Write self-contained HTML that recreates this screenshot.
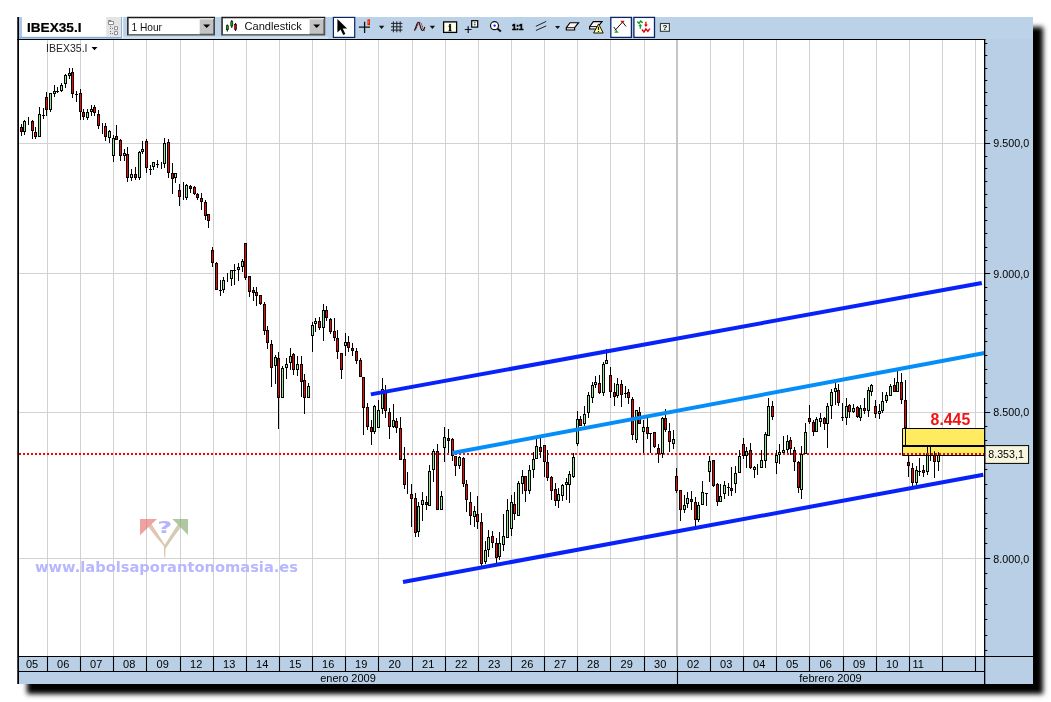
<!DOCTYPE html>
<html><head><meta charset="utf-8"><title>IBEX35.I</title>
<style>
html,body{margin:0;padding:0;background:#fff;}
body{width:1051px;height:702px;position:relative;overflow:hidden;font-family:"Liberation Sans",sans-serif;}
#panel{position:absolute;left:17px;top:17px;width:1016px;height:667px;background:#b8cfe5;box-shadow:10px 10px 5px #000;}
#c{position:absolute;left:0;top:0;}
</style></head><body>
<div id="panel"></div>
<svg id="c" width="1051" height="702" viewBox="0 0 1051 702">
<rect x="19" y="17" width="1014" height="22" fill="#bbd2e8"/>
<rect x="19" y="40" width="966" height="616" fill="#fff"/>
<path d="M47.5 40V656 M80.5 40V656 M113.5 40V656 M146.5 40V656 M180.5 40V656 M213.5 40V656 M246.5 40V656 M279.5 40V656 M312.5 40V656 M345.5 40V656 M378.5 40V656 M412.5 40V656 M445.5 40V656 M478.5 40V656 M511.5 40V656 M544.5 40V656 M577.5 40V656 M610.5 40V656 M644.5 40V656 M677.5 40V656 M710.5 40V656 M743.5 40V656 M776.5 40V656 M809.5 40V656 M843.5 40V656 M876.5 40V656 M909.5 40V656 M942.5 40V656 M975.5 40V656 M19 143.5H984 M19 273.5H984 M19 412.5H984 M19 558.5H984" stroke="#d2d2d2" stroke-width="1" fill="none"/>
<rect x="676" y="40" width="2" height="616" fill="#c6c6c6"/>
<g opacity="0.62"><path d="M146.5 524.5L150.5 522.5Q158 534 165.6 546L165.2 557.5L164.2 557.5L163.8 546Q155 536 146.5 524.5Z" fill="#cfa286"/><path d="M183 524.5L179 522.5Q171.5 534 164 546L164.6 550Q174 536 183 524.5Z" fill="#b9ad84"/><path d="M140 519H157L140 535.2Z" fill="#e46a6a"/><path d="M172.3 519H188V535Z" fill="#7fa86a"/></g>
<text x="157.3" y="533.4" font-family="DejaVu Sans, Liberation Sans, sans-serif" font-weight="bold" font-size="15.5" fill="#b4b4ff" textLength="15" lengthAdjust="spacingAndGlyphs">?</text>
<text x="35" y="572.4" font-family="DejaVu Sans, Liberation Sans, sans-serif" font-weight="bold" font-size="13.2" fill="#b7b7ff" textLength="263" lengthAdjust="spacingAndGlyphs">www.labolsaporantonomasia.es</text>
<path d="M19 454H984" stroke="#ff0000" stroke-width="2" stroke-dasharray="2 2" fill="none"/>
<path d="M21.50 124.0V136.0 M24.50 120.0V135.0 M28.50 117.0V125.0 M32.50 120.0V139.0 M35.50 127.0V139.0 M39.50 107.0V137.0 M43.50 108.0V119.0 M46.50 92.0V116.0 M50.50 93.0V112.0 M54.50 85.0V97.0 M57.50 87.0V93.0 M61.50 83.0V92.0 M65.50 74.0V88.0 M69.50 68.0V79.0 M72.50 68.0V98.0 M76.50 91.0V102.0 M80.50 89.0V120.0 M83.50 109.0V120.0 M87.50 109.0V120.0 M91.50 105.0V116.0 M94.50 105.0V116.0 M98.50 110.0V129.0 M102.50 123.0V134.0 M105.50 123.0V141.0 M109.50 130.0V143.0 M113.50 135.0V162.0 M116.50 125.0V140.0 M120.50 139.0V161.0 M124.50 149.0V161.0 M127.50 147.0V182.0 M131.50 169.0V181.0 M135.50 167.0V180.0 M139.50 151.0V180.0 M142.50 141.0V154.0 M146.50 139.0V173.0 M150.50 165.0V175.0 M153.50 162.0V170.0 M157.50 160.0V168.0 M161.50 162.0V169.0 M164.50 138.0V168.0 M168.50 139.0V178.0 M172.50 163.0V194.0 M175.50 173.0V183.0 M179.50 184.0V206.0 M183.50 182.0V200.0 M186.50 184.0V200.0 M190.50 185.0V193.0 M194.50 186.0V195.0 M197.50 193.0V200.0 M201.50 193.0V210.0 M205.50 200.0V220.0 M208.50 214.0V228.0 M212.50 247.0V267.0 M216.50 262.0V290.0 M220.50 280.0V296.0 M223.50 277.0V293.0 M227.50 273.0V282.0 M231.50 270.0V286.0 M234.50 264.0V285.0 M238.50 263.0V281.0 M242.50 259.0V272.0 M245.50 243.0V280.0 M249.50 276.0V297.0 M253.50 287.0V301.0 M256.50 287.0V306.0 M260.50 295.0V305.0 M264.50 302.0V335.0 M267.50 326.0V349.0 M271.50 340.0V387.0 M275.50 355.0V384.0 M278.50 352.0V429.0 M282.50 366.0V398.0 M286.50 358.0V379.0 M290.50 348.0V370.0 M293.50 353.0V375.0 M297.50 356.0V376.0 M301.50 356.0V397.0 M304.50 374.0V414.0 M308.50 383.0V398.0 M312.50 322.0V352.0 M315.50 318.0V332.0 M319.50 317.0V330.0 M323.50 304.0V341.0 M326.50 306.0V321.0 M330.50 318.0V334.0 M334.50 318.0V341.0 M337.50 330.0V359.0 M341.50 353.0V379.0 M345.50 333.0V356.0 M348.50 336.0V352.0 M352.50 343.0V356.0 M356.50 348.0V364.0 M360.50 358.0V377.0 M363.50 377.0V435.0 M367.50 403.0V430.0 M371.50 420.0V445.0 M374.50 405.0V434.0 M378.50 400.0V428.0 M382.50 378.0V414.0 M385.50 385.0V418.0 M389.50 408.0V439.0 M393.50 404.0V428.0 M396.50 418.0V433.0 M400.50 417.0V460.0 M404.50 447.0V489.0 M407.50 472.0V494.0 M411.50 484.0V527.0 M415.50 493.0V537.0 M418.50 502.0V537.0 M422.50 492.0V521.0 M426.50 496.0V510.0 M429.50 465.0V506.0 M433.50 449.0V482.0 M437.50 444.0V510.0 M441.50 491.0V510.0 M444.50 427.0V462.0 M448.50 429.0V453.0 M452.50 438.0V461.0 M455.50 456.0V476.0 M459.50 456.0V469.0 M463.50 457.0V487.0 M466.50 480.0V512.0 M470.50 492.0V525.0 M474.50 506.0V527.0 M477.50 496.0V529.0 M481.50 513.0V566.0 M485.50 541.0V564.0 M488.50 530.0V557.0 M492.50 531.0V548.0 M496.50 538.0V563.0 M499.50 532.0V560.0 M503.50 514.0V551.0 M507.50 499.0V538.0 M511.50 495.0V536.0 M514.50 492.0V520.0 M518.50 481.0V516.0 M522.50 470.0V494.0 M525.50 476.0V502.0 M529.50 465.0V494.0 M533.50 452.0V478.0 M536.50 439.0V459.0 M540.50 438.0V458.0 M544.50 445.0V477.0 M547.50 450.0V481.0 M551.50 476.0V500.0 M555.50 483.0V506.0 M558.50 488.0V508.0 M562.50 484.0V501.0 M566.50 478.0V500.0 M569.50 471.0V503.0 M573.50 453.0V478.0 M577.50 411.0V446.0 M580.50 416.0V426.0 M584.50 406.0V426.0 M588.50 392.0V418.0 M592.50 382.0V403.0 M595.50 376.0V388.0 M599.50 375.0V394.0 M603.50 362.0V396.0 M606.50 349.0V364.0 M610.50 367.0V398.0 M614.50 383.0V406.0 M617.50 378.0V398.0 M621.50 380.0V407.0 M625.50 386.0V398.0 M628.50 389.0V404.0 M632.50 397.0V440.0 M636.50 410.0V443.0 M639.50 407.0V424.0 M643.50 420.0V453.0 M647.50 418.0V439.0 M650.50 433.0V453.0 M654.50 432.0V448.0 M658.50 444.0V463.0 M662.50 417.0V458.0 M665.50 409.0V432.0 M669.50 423.0V452.0 M673.50 430.0V449.0 M676.50 468.0V493.0 M680.50 490.0V521.0 M684.50 495.0V513.0 M687.50 492.0V508.0 M691.50 491.0V510.0 M695.50 497.0V526.0 M698.50 502.0V522.0 M702.50 481.0V505.0 M706.50 493.0V506.0 M709.50 456.0V482.0 M713.50 460.0V487.0 M717.50 483.0V506.0 M720.50 484.0V502.0 M724.50 481.0V499.0 M728.50 483.0V496.0 M731.50 467.0V496.0 M735.50 466.0V493.0 M739.50 450.0V473.0 M743.50 438.0V459.0 M746.50 447.0V468.0 M750.50 443.0V469.0 M754.50 466.0V478.0 M757.50 464.0V475.0 M761.50 450.0V468.0 M765.50 432.0V468.0 M768.50 398.0V436.0 M772.50 401.0V420.0 M776.50 450.0V474.0 M779.50 444.0V464.0 M783.50 436.0V453.0 M787.50 435.0V453.0 M790.50 437.0V455.0 M794.50 447.0V471.0 M798.50 461.0V493.0 M801.50 446.0V499.0 M805.50 423.0V454.0 M809.50 405.0V424.0 M813.50 420.0V436.0 M816.50 417.0V432.0 M820.50 413.0V427.0 M824.50 417.0V430.0 M827.50 403.0V448.0 M831.50 389.0V419.0 M835.50 383.0V405.0 M838.50 384.0V406.0 M842.50 403.0V421.0 M846.50 398.0V425.0 M849.50 404.0V418.0 M853.50 404.0V413.0 M857.50 406.0V418.0 M860.50 405.0V421.0 M864.50 398.0V414.0 M868.50 387.0V417.0 M871.50 384.0V396.0 M875.50 400.0V418.0 M879.50 404.0V419.0 M882.50 392.0V413.0 M886.50 392.0V403.0 M890.50 384.0V396.0 M894.50 378.0V392.0 M897.50 371.0V392.0 M901.50 373.0V404.0 M905.50 380.0V428.0 M908.50 456.0V477.0 M912.50 463.0V486.0 M916.50 466.0V485.0 M919.50 458.0V476.0 M923.50 465.0V477.0 M927.50 447.0V475.0 M930.50 447.0V461.0 M934.50 451.0V478.0 M938.50 452.0V471.0" stroke="#000" stroke-width="1" fill="none"/>
<path d="M20.00 127.0h3V132.0h-3Z M23.00 121.0h3V132.0h-3Z M31.00 121.0h3V131.0h-3Z M34.00 132.0h3V137.0h-3Z M38.00 114.0h3V137.0h-3Z M42.00 115.0h3v1h-3Z M45.00 97.0h3V110.0h-3Z M49.00 93.0h3V110.0h-3Z M53.00 91.0h3V94.0h-3Z M56.00 91.0h3v1h-3Z M60.00 85.0h3V91.0h-3Z M64.00 75.0h3V84.0h-3Z M68.00 73.0h3V76.0h-3Z M71.00 72.0h3V94.0h-3Z M75.00 94.0h3v1h-3Z M79.00 93.0h3V112.0h-3Z M82.00 112.0h3V117.0h-3Z M86.00 112.0h3V118.0h-3Z M90.00 109.0h3V112.0h-3Z M93.00 107.0h3V113.0h-3Z M97.00 114.0h3V126.0h-3Z M104.00 126.0h3V137.0h-3Z M108.00 131.0h3V138.0h-3Z M112.00 138.0h3V156.0h-3Z M115.00 136.0h3V140.0h-3Z M119.00 140.0h3V156.0h-3Z M123.00 153.0h3V156.0h-3Z M126.00 154.0h3V178.0h-3Z M130.00 174.0h3V178.0h-3Z M134.00 174.0h3V178.0h-3Z M138.00 152.0h3V178.0h-3Z M141.00 149.0h3V152.0h-3Z M145.00 141.0h3V168.0h-3Z M149.00 169.0h3v1h-3Z M152.00 162.0h3V167.0h-3Z M156.00 164.0h3v1h-3Z M163.00 143.0h3V164.0h-3Z M167.00 142.0h3V173.0h-3Z M171.00 173.0h3V179.0h-3Z M174.00 173.0h3V178.0h-3Z M178.00 190.0h3V197.0h-3Z M185.00 185.0h3V198.0h-3Z M189.00 186.0h3V189.0h-3Z M193.00 187.0h3V194.0h-3Z M196.00 194.0h3V198.0h-3Z M200.00 198.0h3V202.0h-3Z M204.00 202.0h3V216.0h-3Z M207.00 214.0h3V221.0h-3Z M211.00 250.0h3V263.0h-3Z M215.00 263.0h3V290.0h-3Z M219.00 290.0h3v1h-3Z M222.00 280.0h3V290.0h-3Z M230.00 270.0h3V279.0h-3Z M233.00 270.0h3v1h-3Z M237.00 267.0h3V270.0h-3Z M241.00 261.0h3V267.0h-3Z M244.00 243.0h3V278.0h-3Z M248.00 276.0h3V292.0h-3Z M252.00 290.0h3V293.0h-3Z M255.00 292.0h3V296.0h-3Z M259.00 295.0h3V304.0h-3Z M263.00 304.0h3V331.0h-3Z M266.00 330.0h3V343.0h-3Z M270.00 344.0h3V368.0h-3Z M274.00 357.0h3V366.0h-3Z M277.00 358.0h3V398.0h-3Z M281.00 368.0h3V398.0h-3Z M285.00 364.0h3V368.0h-3Z M289.00 356.0h3V363.0h-3Z M292.00 354.0h3V370.0h-3Z M296.00 364.0h3V370.0h-3Z M300.00 364.0h3V382.0h-3Z M303.00 380.0h3V398.0h-3Z M307.00 386.0h3V398.0h-3Z M311.00 325.0h3V336.0h-3Z M314.00 321.0h3V324.0h-3Z M318.00 321.0h3V328.0h-3Z M322.00 310.0h3V328.0h-3Z M325.00 310.0h3V318.0h-3Z M329.00 319.0h3V332.0h-3Z M333.00 331.0h3V338.0h-3Z M336.00 338.0h3V352.0h-3Z M340.00 353.0h3V370.0h-3Z M344.00 342.0h3V346.0h-3Z M347.00 342.0h3V348.0h-3Z M351.00 348.0h3V351.0h-3Z M355.00 351.0h3V361.0h-3Z M359.00 360.0h3V377.0h-3Z M362.00 377.0h3V408.0h-3Z M366.00 407.0h3V427.0h-3Z M370.00 427.0h3V432.0h-3Z M373.00 406.0h3V432.0h-3Z M377.00 410.0h3V428.0h-3Z M381.00 389.0h3V409.0h-3Z M384.00 390.0h3V411.0h-3Z M388.00 412.0h3V427.0h-3Z M392.00 420.0h3V427.0h-3Z M395.00 421.0h3V428.0h-3Z M399.00 428.0h3V460.0h-3Z M403.00 459.0h3V485.0h-3Z M410.00 494.0h3V499.0h-3Z M414.00 498.0h3V533.0h-3Z M417.00 506.0h3V532.0h-3Z M421.00 500.0h3V505.0h-3Z M425.00 502.0h3V505.0h-3Z M428.00 471.0h3V506.0h-3Z M432.00 451.0h3V470.0h-3Z M436.00 451.0h3V510.0h-3Z M440.00 496.0h3V510.0h-3Z M443.00 437.0h3V448.0h-3Z M447.00 438.0h3V441.0h-3Z M451.00 439.0h3V456.0h-3Z M454.00 456.0h3V466.0h-3Z M458.00 457.0h3V466.0h-3Z M462.00 458.0h3V484.0h-3Z M465.00 484.0h3V500.0h-3Z M469.00 502.0h3V516.0h-3Z M473.00 511.0h3V517.0h-3Z M476.00 514.0h3V522.0h-3Z M480.00 522.0h3V564.0h-3Z M484.00 550.0h3V562.0h-3Z M487.00 537.0h3V550.0h-3Z M491.00 536.0h3V543.0h-3Z M495.00 543.0h3V558.0h-3Z M498.00 543.0h3V557.0h-3Z M502.00 536.0h3V545.0h-3Z M506.00 510.0h3V538.0h-3Z M510.00 502.0h3V529.0h-3Z M513.00 504.0h3V514.0h-3Z M517.00 483.0h3V516.0h-3Z M521.00 476.0h3V484.0h-3Z M524.00 476.0h3V491.0h-3Z M528.00 470.0h3V491.0h-3Z M532.00 459.0h3V470.0h-3Z M535.00 446.0h3V459.0h-3Z M539.00 447.0h3V452.0h-3Z M543.00 445.0h3V462.0h-3Z M546.00 462.0h3V478.0h-3Z M550.00 477.0h3V491.0h-3Z M554.00 489.0h3V501.0h-3Z M557.00 494.0h3V501.0h-3Z M561.00 485.0h3V496.0h-3Z M565.00 482.0h3V485.0h-3Z M568.00 474.0h3V485.0h-3Z M572.00 457.0h3V477.0h-3Z M576.00 419.0h3V444.0h-3Z M579.00 419.0h3V426.0h-3Z M583.00 414.0h3V424.0h-3Z M587.00 395.0h3V413.0h-3Z M591.00 385.0h3V398.0h-3Z M594.00 382.0h3V385.0h-3Z M598.00 383.0h3V393.0h-3Z M602.00 364.0h3V393.0h-3Z M605.00 360.0h3V364.0h-3Z M609.00 375.0h3V392.0h-3Z M613.00 392.0h3V397.0h-3Z M616.00 384.0h3V396.0h-3Z M620.00 384.0h3V395.0h-3Z M624.00 393.0h3v1h-3Z M627.00 392.0h3V398.0h-3Z M631.00 399.0h3V435.0h-3Z M635.00 410.0h3V440.0h-3Z M638.00 412.0h3V424.0h-3Z M642.00 427.0h3V432.0h-3Z M646.00 427.0h3V434.0h-3Z M649.00 433.0h3v1h-3Z M653.00 432.0h3V447.0h-3Z M657.00 448.0h3V454.0h-3Z M661.00 418.0h3V454.0h-3Z M664.00 418.0h3V430.0h-3Z M668.00 431.0h3V442.0h-3Z M672.00 439.0h3V444.0h-3Z M675.00 476.0h3V491.0h-3Z M679.00 490.0h3V510.0h-3Z M683.00 505.0h3V510.0h-3Z M686.00 498.0h3V504.0h-3Z M690.00 499.0h3V502.0h-3Z M694.00 502.0h3V520.0h-3Z M697.00 505.0h3V520.0h-3Z M701.00 492.0h3V505.0h-3Z M705.00 493.0h3v1h-3Z M708.00 461.0h3V472.0h-3Z M712.00 460.0h3V486.0h-3Z M716.00 484.0h3V502.0h-3Z M719.00 496.0h3V502.0h-3Z M723.00 485.0h3V494.0h-3Z M727.00 487.0h3v1h-3Z M730.00 488.0h3V491.0h-3Z M734.00 473.0h3V484.0h-3Z M738.00 456.0h3V473.0h-3Z M742.00 444.0h3V456.0h-3Z M745.00 451.0h3V456.0h-3Z M749.00 450.0h3V468.0h-3Z M753.00 467.0h3V470.0h-3Z M760.00 460.0h3V468.0h-3Z M764.00 434.0h3V461.0h-3Z M767.00 406.0h3V436.0h-3Z M771.00 406.0h3V417.0h-3Z M775.00 455.0h3V463.0h-3Z M778.00 452.0h3V455.0h-3Z M782.00 450.0h3V453.0h-3Z M786.00 441.0h3V450.0h-3Z M789.00 440.0h3V449.0h-3Z M793.00 450.0h3V462.0h-3Z M797.00 462.0h3V488.0h-3Z M800.00 454.0h3V490.0h-3Z M804.00 432.0h3V454.0h-3Z M808.00 418.0h3V422.0h-3Z M812.00 422.0h3V432.0h-3Z M815.00 419.0h3V432.0h-3Z M819.00 418.0h3V422.0h-3Z M823.00 418.0h3V424.0h-3Z M826.00 406.0h3V424.0h-3Z M830.00 392.0h3V406.0h-3Z M834.00 388.0h3V392.0h-3Z M837.00 390.0h3V403.0h-3Z M841.00 417.0h3v1h-3Z M845.00 406.0h3V418.0h-3Z M848.00 405.0h3V412.0h-3Z M852.00 408.0h3V412.0h-3Z M856.00 407.0h3V417.0h-3Z M859.00 408.0h3V418.0h-3Z M863.00 408.0h3V411.0h-3Z M867.00 390.0h3V411.0h-3Z M870.00 385.0h3V392.0h-3Z M874.00 406.0h3V414.0h-3Z M878.00 411.0h3V414.0h-3Z M881.00 401.0h3V411.0h-3Z M885.00 395.0h3V401.0h-3Z M889.00 386.0h3V396.0h-3Z M893.00 385.0h3V392.0h-3Z M896.00 382.0h3V392.0h-3Z M900.00 382.0h3V400.0h-3Z M904.00 400.0h3V428.0h-3Z M907.00 462.0h3V466.0h-3Z M911.00 468.0h3V483.0h-3Z M915.00 470.0h3V483.0h-3Z M918.00 471.0h3v1h-3Z M922.00 470.0h3V473.0h-3Z M926.00 453.0h3V472.0h-3Z M933.00 455.0h3V462.0h-3Z M937.00 455.0h3V462.0h-3Z" fill="#000"/>
<path d="M21.00 128.0h1V131.0h-1Z M32.00 122.0h1V130.0h-1Z M35.00 133.0h1V136.0h-1Z M46.00 98.0h1V109.0h-1Z M72.00 73.0h1V93.0h-1Z M80.00 94.0h1V111.0h-1Z M83.00 113.0h1V116.0h-1Z M94.00 108.0h1V112.0h-1Z M98.00 115.0h1V125.0h-1Z M105.00 127.0h1V136.0h-1Z M116.00 137.0h1V139.0h-1Z M120.00 141.0h1V155.0h-1Z M127.00 155.0h1V177.0h-1Z M135.00 175.0h1V177.0h-1Z M146.00 142.0h1V167.0h-1Z M168.00 143.0h1V172.0h-1Z M172.00 174.0h1V178.0h-1Z M179.00 191.0h1V196.0h-1Z M190.00 187.0h1V188.0h-1Z M194.00 188.0h1V193.0h-1Z M197.00 195.0h1V197.0h-1Z M201.00 199.0h1V201.0h-1Z M205.00 203.0h1V215.0h-1Z M208.00 215.0h1V220.0h-1Z M212.00 251.0h1V262.0h-1Z M216.00 264.0h1V289.0h-1Z M245.00 244.0h1V277.0h-1Z M249.00 277.0h1V291.0h-1Z M253.00 291.0h1V292.0h-1Z M256.00 293.0h1V295.0h-1Z M260.00 296.0h1V303.0h-1Z M264.00 305.0h1V330.0h-1Z M267.00 331.0h1V342.0h-1Z M271.00 345.0h1V367.0h-1Z M278.00 359.0h1V397.0h-1Z M293.00 355.0h1V369.0h-1Z M301.00 365.0h1V381.0h-1Z M304.00 381.0h1V397.0h-1Z M319.00 322.0h1V327.0h-1Z M326.00 311.0h1V317.0h-1Z M330.00 320.0h1V331.0h-1Z M334.00 332.0h1V337.0h-1Z M337.00 339.0h1V351.0h-1Z M341.00 354.0h1V369.0h-1Z M348.00 343.0h1V347.0h-1Z M352.00 349.0h1V350.0h-1Z M356.00 352.0h1V360.0h-1Z M360.00 361.0h1V376.0h-1Z M363.00 378.0h1V407.0h-1Z M367.00 408.0h1V426.0h-1Z M371.00 428.0h1V431.0h-1Z M385.00 391.0h1V410.0h-1Z M389.00 413.0h1V426.0h-1Z M396.00 422.0h1V427.0h-1Z M400.00 429.0h1V459.0h-1Z M404.00 460.0h1V484.0h-1Z M411.00 495.0h1V498.0h-1Z M415.00 499.0h1V532.0h-1Z M426.00 503.0h1V504.0h-1Z M437.00 452.0h1V509.0h-1Z M448.00 439.0h1V440.0h-1Z M452.00 440.0h1V455.0h-1Z M455.00 457.0h1V465.0h-1Z M463.00 459.0h1V483.0h-1Z M466.00 485.0h1V499.0h-1Z M470.00 503.0h1V515.0h-1Z M477.00 515.0h1V521.0h-1Z M481.00 523.0h1V563.0h-1Z M492.00 537.0h1V542.0h-1Z M496.00 544.0h1V557.0h-1Z M514.00 505.0h1V513.0h-1Z M525.00 477.0h1V490.0h-1Z M540.00 448.0h1V451.0h-1Z M544.00 446.0h1V461.0h-1Z M547.00 463.0h1V477.0h-1Z M551.00 478.0h1V490.0h-1Z M555.00 490.0h1V500.0h-1Z M580.00 420.0h1V425.0h-1Z M599.00 384.0h1V392.0h-1Z M610.00 376.0h1V391.0h-1Z M614.00 393.0h1V396.0h-1Z M621.00 385.0h1V394.0h-1Z M628.00 393.0h1V397.0h-1Z M632.00 400.0h1V434.0h-1Z M639.00 413.0h1V423.0h-1Z M647.00 428.0h1V433.0h-1Z M654.00 433.0h1V446.0h-1Z M658.00 449.0h1V453.0h-1Z M665.00 419.0h1V429.0h-1Z M669.00 432.0h1V441.0h-1Z M676.00 477.0h1V490.0h-1Z M680.00 491.0h1V509.0h-1Z M691.00 500.0h1V501.0h-1Z M695.00 503.0h1V519.0h-1Z M713.00 461.0h1V485.0h-1Z M717.00 485.0h1V501.0h-1Z M731.00 489.0h1V490.0h-1Z M743.00 445.0h1V455.0h-1Z M750.00 451.0h1V467.0h-1Z M772.00 407.0h1V416.0h-1Z M790.00 441.0h1V448.0h-1Z M794.00 451.0h1V461.0h-1Z M798.00 463.0h1V487.0h-1Z M809.00 419.0h1V421.0h-1Z M813.00 423.0h1V431.0h-1Z M824.00 419.0h1V423.0h-1Z M838.00 391.0h1V402.0h-1Z M849.00 406.0h1V411.0h-1Z M857.00 408.0h1V416.0h-1Z M864.00 409.0h1V410.0h-1Z M875.00 407.0h1V413.0h-1Z M894.00 386.0h1V391.0h-1Z M901.00 383.0h1V399.0h-1Z M905.00 401.0h1V427.0h-1Z M908.00 463.0h1V465.0h-1Z M912.00 469.0h1V482.0h-1Z M923.00 471.0h1V472.0h-1Z M934.00 456.0h1V461.0h-1Z" fill="#ff0000"/>
<path d="M24.00 122.0h1V131.0h-1Z M39.00 115.0h1V136.0h-1Z M50.00 94.0h1V109.0h-1Z M54.00 92.0h1V93.0h-1Z M61.00 86.0h1V90.0h-1Z M65.00 76.0h1V83.0h-1Z M69.00 74.0h1V75.0h-1Z M87.00 113.0h1V117.0h-1Z M91.00 110.0h1V111.0h-1Z M109.00 132.0h1V137.0h-1Z M113.00 139.0h1V155.0h-1Z M124.00 154.0h1V155.0h-1Z M131.00 175.0h1V177.0h-1Z M139.00 153.0h1V177.0h-1Z M142.00 150.0h1V151.0h-1Z M153.00 163.0h1V166.0h-1Z M164.00 144.0h1V163.0h-1Z M175.00 174.0h1V177.0h-1Z M186.00 186.0h1V197.0h-1Z M223.00 281.0h1V289.0h-1Z M231.00 271.0h1V278.0h-1Z M238.00 268.0h1V269.0h-1Z M242.00 262.0h1V266.0h-1Z M275.00 358.0h1V365.0h-1Z M282.00 369.0h1V397.0h-1Z M286.00 365.0h1V367.0h-1Z M290.00 357.0h1V362.0h-1Z M297.00 365.0h1V369.0h-1Z M308.00 387.0h1V397.0h-1Z M312.00 326.0h1V335.0h-1Z M315.00 322.0h1V323.0h-1Z M323.00 311.0h1V327.0h-1Z M345.00 343.0h1V345.0h-1Z M374.00 407.0h1V431.0h-1Z M378.00 411.0h1V427.0h-1Z M382.00 390.0h1V408.0h-1Z M393.00 421.0h1V426.0h-1Z M418.00 507.0h1V531.0h-1Z M422.00 501.0h1V504.0h-1Z M429.00 472.0h1V505.0h-1Z M433.00 452.0h1V469.0h-1Z M441.00 497.0h1V509.0h-1Z M444.00 438.0h1V447.0h-1Z M459.00 458.0h1V465.0h-1Z M474.00 512.0h1V516.0h-1Z M485.00 551.0h1V561.0h-1Z M488.00 538.0h1V549.0h-1Z M499.00 544.0h1V556.0h-1Z M503.00 537.0h1V544.0h-1Z M507.00 511.0h1V537.0h-1Z M511.00 503.0h1V528.0h-1Z M518.00 484.0h1V515.0h-1Z M522.00 477.0h1V483.0h-1Z M529.00 471.0h1V490.0h-1Z M533.00 460.0h1V469.0h-1Z M536.00 447.0h1V458.0h-1Z M558.00 495.0h1V500.0h-1Z M562.00 486.0h1V495.0h-1Z M566.00 483.0h1V484.0h-1Z M569.00 475.0h1V484.0h-1Z M573.00 458.0h1V476.0h-1Z M577.00 420.0h1V443.0h-1Z M584.00 415.0h1V423.0h-1Z M588.00 396.0h1V412.0h-1Z M592.00 386.0h1V397.0h-1Z M595.00 383.0h1V384.0h-1Z M603.00 365.0h1V392.0h-1Z M606.00 361.0h1V363.0h-1Z M617.00 385.0h1V395.0h-1Z M636.00 411.0h1V439.0h-1Z M643.00 428.0h1V431.0h-1Z M662.00 419.0h1V453.0h-1Z M673.00 440.0h1V443.0h-1Z M684.00 506.0h1V509.0h-1Z M687.00 499.0h1V503.0h-1Z M698.00 506.0h1V519.0h-1Z M702.00 493.0h1V504.0h-1Z M709.00 462.0h1V471.0h-1Z M720.00 497.0h1V501.0h-1Z M724.00 486.0h1V493.0h-1Z M735.00 474.0h1V483.0h-1Z M739.00 457.0h1V472.0h-1Z M746.00 452.0h1V455.0h-1Z M754.00 468.0h1V469.0h-1Z M761.00 461.0h1V467.0h-1Z M765.00 435.0h1V460.0h-1Z M768.00 407.0h1V435.0h-1Z M776.00 456.0h1V462.0h-1Z M779.00 453.0h1V454.0h-1Z M783.00 451.0h1V452.0h-1Z M787.00 442.0h1V449.0h-1Z M801.00 455.0h1V489.0h-1Z M805.00 433.0h1V453.0h-1Z M816.00 420.0h1V431.0h-1Z M820.00 419.0h1V421.0h-1Z M827.00 407.0h1V423.0h-1Z M831.00 393.0h1V405.0h-1Z M835.00 389.0h1V391.0h-1Z M846.00 407.0h1V417.0h-1Z M853.00 409.0h1V411.0h-1Z M860.00 409.0h1V417.0h-1Z M868.00 391.0h1V410.0h-1Z M871.00 386.0h1V391.0h-1Z M879.00 412.0h1V413.0h-1Z M882.00 402.0h1V410.0h-1Z M886.00 396.0h1V400.0h-1Z M890.00 387.0h1V395.0h-1Z M897.00 383.0h1V391.0h-1Z M916.00 471.0h1V482.0h-1Z M927.00 454.0h1V471.0h-1Z M938.00 456.0h1V461.0h-1Z" fill="#90ee90"/>
<path d="M370.8 394.4L981.8 283.0" stroke="#0822fa" stroke-width="4" fill="none"/>
<path d="M403 582L983.3 474.8" stroke="#0822fa" stroke-width="4" fill="none"/>
<path d="M452.4 453L984.6 353" stroke="#068ef8" stroke-width="3.9" fill="none"/>
<rect x="902" y="428" width="82.5" height="28" fill="#ffeb60"/>
<path d="M984.5 428.5H902.5V455.5H984.5" stroke="#000" stroke-width="1" fill="none"/>
<path d="M902.4 446H984.5" stroke="#000" stroke-width="1.8" fill="none"/>
<path d="M905.5 428.3V445.4 M927.5 446.9V455 M930.5 446.9V455 M934.5 451.3V455 M938.5 452.2V455 M926.5 453.4V455 M928.5 453.4V455" stroke="#000" stroke-width="1" fill="none"/>
<path d="M903 454H984" stroke="#ff0000" stroke-width="2" stroke-dasharray="2 2" fill="none"/>
<text x="930.6" y="424.6" font-family="Liberation Sans, sans-serif" font-weight="bold" font-size="16" fill="#f01414" textLength="39.6" lengthAdjust="spacingAndGlyphs">8.445</text>
<rect x="17" y="17" width="2" height="667" fill="#000"/><rect x="17" y="17" width="1" height="667" fill="#444"/>
<rect x="17" y="39" width="968.5" height="1" fill="#000"/>
<rect x="984" y="39" width="1.3" height="645" fill="#000"/>
<rect x="19" y="656" width="1014" height="1" fill="#000"/>
<rect x="19" y="671" width="966" height="1" fill="#000"/>
<path d="M47.5 656V671 M80.5 656V671 M113.5 656V671 M146.5 656V671 M180.5 656V671 M213.5 656V671 M246.5 656V671 M279.5 656V671 M312.5 656V671 M345.5 656V671 M378.5 656V671 M412.5 656V671 M445.5 656V671 M478.5 656V671 M511.5 656V671 M544.5 656V671 M577.5 656V671 M610.5 656V671 M644.5 656V671 M677.5 656V671 M710.5 656V671 M743.5 656V671 M776.5 656V671 M809.5 656V671 M843.5 656V671 M876.5 656V671 M909.5 656V671 M942.5 656V671 M975.5 656V671 M677.5 671V684" stroke="#000" stroke-width="1.1" fill="none"/>
<path d="M985 650.5h2.3 M985 635.5h2.3 M985 619.5h2.3 M985 604.5h2.3 M985 588.5h2.3 M985 573.5h2.3 M985 558.5h5.2 M985 543.5h2.3 M985 528.5h2.3 M985 513.5h2.3 M985 498.5h2.3 M985 484.5h2.3 M985 469.5h2.3 M985 455.5h2.3 M985 440.5h2.3 M985 426.5h2.3 M985 412.5h5.2 M985 397.5h2.3 M985 383.5h2.3 M985 369.5h2.3 M985 355.5h2.3 M985 341.5h2.3 M985 328.5h2.3 M985 314.5h2.3 M985 300.5h2.3 M985 287.5h2.3 M985 273.5h5.2 M985 260.5h2.3 M985 247.5h2.3 M985 233.5h2.3 M985 220.5h2.3 M985 207.5h2.3 M985 194.5h2.3 M985 181.5h2.3 M985 168.5h2.3 M985 156.5h2.3 M985 143.5h5.2 M985 130.5h2.3 M985 118.5h2.3 M985 105.5h2.3 M985 92.5h2.3 M985 80.5h2.3 M985 68.5h2.3 M985 55.5h2.3 M985 43.5h2.3" stroke="#000" stroke-width="1" fill="none"/>
<text x="993.3" y="147.4" font-family="Liberation Sans, sans-serif" font-size="11" fill="#000" textLength="35.8" lengthAdjust="spacingAndGlyphs">9.500,0</text>
<text x="993.3" y="278.0" font-family="Liberation Sans, sans-serif" font-size="11" fill="#000" textLength="35.8" lengthAdjust="spacingAndGlyphs">9.000,0</text>
<text x="993.3" y="416.1" font-family="Liberation Sans, sans-serif" font-size="11" fill="#000" textLength="35.8" lengthAdjust="spacingAndGlyphs">8.500,0</text>
<text x="993.3" y="562.6" font-family="Liberation Sans, sans-serif" font-size="11" fill="#000" textLength="35.8" lengthAdjust="spacingAndGlyphs">8.000,0</text>
<rect x="985" y="445.6" width="43.6" height="17.8" fill="#f6f6de" stroke="#000" stroke-width="1"/>
<text x="988.3" y="458.2" font-family="Liberation Sans, sans-serif" font-size="11" fill="#000" textLength="35.5" lengthAdjust="spacingAndGlyphs">8.353,1</text>
<text x="32.0" y="668" font-family="Liberation Sans, sans-serif" font-size="11" fill="#000" text-anchor="middle">05</text>
<text x="63.2" y="668" font-family="Liberation Sans, sans-serif" font-size="11" fill="#000" text-anchor="middle">06</text>
<text x="96.2" y="668" font-family="Liberation Sans, sans-serif" font-size="11" fill="#000" text-anchor="middle">07</text>
<text x="129.2" y="668" font-family="Liberation Sans, sans-serif" font-size="11" fill="#000" text-anchor="middle">08</text>
<text x="162.7" y="668" font-family="Liberation Sans, sans-serif" font-size="11" fill="#000" text-anchor="middle">09</text>
<text x="196.2" y="668" font-family="Liberation Sans, sans-serif" font-size="11" fill="#000" text-anchor="middle">12</text>
<text x="229.2" y="668" font-family="Liberation Sans, sans-serif" font-size="11" fill="#000" text-anchor="middle">13</text>
<text x="262.2" y="668" font-family="Liberation Sans, sans-serif" font-size="11" fill="#000" text-anchor="middle">14</text>
<text x="295.2" y="668" font-family="Liberation Sans, sans-serif" font-size="11" fill="#000" text-anchor="middle">15</text>
<text x="328.2" y="668" font-family="Liberation Sans, sans-serif" font-size="11" fill="#000" text-anchor="middle">16</text>
<text x="361.2" y="668" font-family="Liberation Sans, sans-serif" font-size="11" fill="#000" text-anchor="middle">19</text>
<text x="394.7" y="668" font-family="Liberation Sans, sans-serif" font-size="11" fill="#000" text-anchor="middle">20</text>
<text x="428.2" y="668" font-family="Liberation Sans, sans-serif" font-size="11" fill="#000" text-anchor="middle">21</text>
<text x="461.2" y="668" font-family="Liberation Sans, sans-serif" font-size="11" fill="#000" text-anchor="middle">22</text>
<text x="494.2" y="668" font-family="Liberation Sans, sans-serif" font-size="11" fill="#000" text-anchor="middle">23</text>
<text x="527.2" y="668" font-family="Liberation Sans, sans-serif" font-size="11" fill="#000" text-anchor="middle">26</text>
<text x="560.2" y="668" font-family="Liberation Sans, sans-serif" font-size="11" fill="#000" text-anchor="middle">27</text>
<text x="593.2" y="668" font-family="Liberation Sans, sans-serif" font-size="11" fill="#000" text-anchor="middle">28</text>
<text x="626.7" y="668" font-family="Liberation Sans, sans-serif" font-size="11" fill="#000" text-anchor="middle">29</text>
<text x="660.2" y="668" font-family="Liberation Sans, sans-serif" font-size="11" fill="#000" text-anchor="middle">30</text>
<text x="693.2" y="668" font-family="Liberation Sans, sans-serif" font-size="11" fill="#000" text-anchor="middle">02</text>
<text x="726.2" y="668" font-family="Liberation Sans, sans-serif" font-size="11" fill="#000" text-anchor="middle">03</text>
<text x="759.2" y="668" font-family="Liberation Sans, sans-serif" font-size="11" fill="#000" text-anchor="middle">04</text>
<text x="792.2" y="668" font-family="Liberation Sans, sans-serif" font-size="11" fill="#000" text-anchor="middle">05</text>
<text x="825.7" y="668" font-family="Liberation Sans, sans-serif" font-size="11" fill="#000" text-anchor="middle">06</text>
<text x="859.2" y="668" font-family="Liberation Sans, sans-serif" font-size="11" fill="#000" text-anchor="middle">09</text>
<text x="892.2" y="668" font-family="Liberation Sans, sans-serif" font-size="11" fill="#000" text-anchor="middle">10</text>
<text x="912.5" y="668" font-family="Liberation Sans, sans-serif" font-size="11" fill="#000">11</text>
<text x="348" y="682.2" font-family="Liberation Sans, sans-serif" font-size="11" fill="#000" text-anchor="middle">enero 2009</text>
<text x="830.5" y="682.2" font-family="Liberation Sans, sans-serif" font-size="11" fill="#000" text-anchor="middle">febrero 2009</text>
<text x="46" y="51.8" font-family="Liberation Sans, sans-serif" font-size="10.6" fill="#222" textLength="41.5" lengthAdjust="spacingAndGlyphs">IBEX35.I</text>
<path d="M91.5 47L97.5 47L94.5 50.2Z" fill="#000"/>
<!-- toolbar -->
<g id="tb" font-family="Liberation Sans, sans-serif">
<rect x="19" y="17" width="103" height="21.3" fill="#86abdb"/>
<rect x="19" y="17" width="2.6" height="20" fill="#a9c6e6"/>
<rect x="21.8" y="17" width="99.3" height="19.8" fill="#fff"/>
<rect x="106.2" y="17" width="14.8" height="19.7" fill="#e4e4e4"/>
<rect x="122" y="17" width="1.2" height="21.6" fill="#f4f8fc"/>
<rect x="123.2" y="36.6" width="205" height="2" fill="#cde1f3"/>
<path d="M108.5 21.5h5v3h-5z M108.5 21.5v-1h2.5v1 M114.5 26.7h3v3h-3z M114.5 31.6h3v3h-3z" fill="#fff" stroke="#8a8a8a" stroke-width="1"/>
<path d="M110 26h1v1h-1z M110 28h1v1h-1z M112 28h1v1h-1z M110 31h1v1h-1z M110 33h1v1h-1z M112 33h1v1h-1z" fill="#777"/>
<text x="27" y="31.7" font-weight="bold" font-size="12.2" fill="#000" textLength="54.5" lengthAdjust="spacingAndGlyphs" stroke="#000" stroke-width="0.2">IBEX35.I</text>
<!-- dropdown 1 -->
<rect x="127.1" y="16.8" width="87.9" height="18.7" fill="#fff"/>
<path d="M127.85 35.5V17.55H215" stroke="#1a1a1a" stroke-width="1.5" fill="none"/>
<path d="M214.45 18V34.9H128.5" stroke="#3a3a3a" stroke-width="1.1" fill="none"/>
<rect x="199.5" y="18.9" width="14.3" height="15.4" fill="#c3c3c3"/>
<path d="M199.5 34.3V18.9H213.8" stroke="#eee" stroke-width="1" fill="none"/>
<path d="M213.8 18.9V34.3H199.5" stroke="#555" stroke-width="1.2" fill="none"/>
<path d="M203.1 24.4h7.1l-3.55 3.7z" fill="#000"/>
<text x="131.4" y="30.6" font-size="11" fill="#111" textLength="30.6" lengthAdjust="spacingAndGlyphs">1 Hour</text>
<!-- dropdown 2 -->
<rect x="221.3" y="16.8" width="104" height="18.7" fill="#fff"/>
<path d="M222.05 35.5V17.55H325.3" stroke="#1a1a1a" stroke-width="1.5" fill="none"/>
<path d="M324.75 18V34.9H222.7" stroke="#3a3a3a" stroke-width="1.1" fill="none"/>
<rect x="309.3" y="18.9" width="14.7" height="15.4" fill="#c3c3c3"/>
<path d="M309.3 34.3V18.9H324" stroke="#eee" stroke-width="1" fill="none"/>
<path d="M324 18.9V34.3H309.3" stroke="#555" stroke-width="1.2" fill="none"/>
<path d="M313.2 24.4h6.9l-3.45 3.7z" fill="#000"/>
<path d="M227.3 24.5V31.5 M231.8 20V28 M235.6 23V31" stroke="#000" stroke-width="1" fill="none"/>
<rect x="226.3" y="25.7" width="2" height="4" fill="#00b000" stroke="#000" stroke-width="0.6"/>
<rect x="230.8" y="21.7" width="2" height="4.3" fill="#00b000" stroke="#000" stroke-width="0.6"/>
<rect x="234.6" y="24.5" width="2" height="5" fill="#e00000" stroke="#000" stroke-width="0.6"/>
<text x="244.5" y="30" font-size="11.2" fill="#111" textLength="57.3" lengthAdjust="spacingAndGlyphs">Candlestick</text>
<!-- arrow (selected) -->
<rect x="333.4" y="17.4" width="21.3" height="20" fill="#fff" stroke="#0a246a" stroke-width="1.2"/>
<path d="M337.4 18.9v13.5l3.2-3l2.6 5.5l2.2-1l-2.7-5.4h4.4z" fill="#000"/>
<!-- crosshair + candle -->
<path d="M358.9 27.2H370 M364.6 21.7V33.1" stroke="#111" stroke-width="1.3" fill="none"/>
<rect x="367.5" y="19.4" width="2.5" height="5.7" fill="#e81000"/>
<rect x="368.3" y="20.6" width="0.9" height="3" fill="#ff9020"/>
<path d="M378.9 25.8h5.4l-2.7 3.2z" fill="#111"/>
<!-- grid -->
<path d="M393.4 21.4V32.3 M396.8 21.4V32.3 M400.2 21.4V32.3 M391 23.4H402.4 M391 26.8H402.4 M391 30.1H402.4" stroke="#222" stroke-width="1" fill="none"/>
<!-- waves -->
<path d="M414.5 30.6C416.5 30.6 417.5 22.3 419.8 22.3S422.5 30.8 425 30.8" stroke="#d00000" stroke-width="1" fill="none" stroke-dasharray="2 0.8"/>
<path d="M414 30C416 30 416.5 22.3 418.3 22.3S420.5 30.5 422.5 30.5S424 28 425 27" stroke="#111" stroke-width="1.1" fill="none"/>
<path d="M429.7 25.8h5.4l-2.7 3.2z" fill="#111"/>
<!-- info -->
<rect x="443.6" y="21.9" width="13" height="10.5" fill="#ffffea" stroke="#000" stroke-width="1.3"/>
<text x="450.1" y="31" font-family="Liberation Serif, serif" font-weight="bold" font-size="11" text-anchor="middle" fill="#000" stroke="#000" stroke-width="0.5">i</text>
<!-- plus box -->
<path d="M464.8 29.5H471.6 M468.2 26.2V33.1" stroke="#111" stroke-width="1.2" fill="none"/>
<rect x="471.7" y="20.7" width="6" height="6.4" fill="#fff" stroke="#000" stroke-width="1.2"/>
<path d="M473.8 22.8h1.8 M473.8 24.8h1.8" stroke="#333" stroke-width="1" fill="none"/>
<!-- magnifier -->
<circle cx="494.5" cy="25.7" r="4" fill="#fff" stroke="#111" stroke-width="1.2"/>
<circle cx="494.6" cy="25.6" r="1.2" fill="#1020ff"/>
<path d="M497.6 28.8L500.9 31.6" stroke="#111" stroke-width="2" fill="none"/>
<text x="511.9" y="29.8" font-weight="bold" font-size="9.2" fill="#000" stroke="#000" stroke-width="0.7" textLength="11.4" lengthAdjust="spacingAndGlyphs">1:1</text>
<!-- parallel lines -->
<path d="M535.9 26.3L546.2 21.4 M535.9 30.5L546.2 25.9" stroke="#222" stroke-width="1" fill="none"/>
<path d="M555.1 26h5l-2.5 3z" fill="#111"/>
<!-- eraser -->
<path d="M570 22.7H578.6L574.6 27.7V30H566.3V27.7Z" fill="#fff3f5" stroke="#000" stroke-width="1.15"/>
<path d="M566.3 27.7H574.6" stroke="#111" stroke-width="1" fill="none"/>
<!-- eraser + warning -->
<path d="M593.3 21.6H602L598 26.6V29H589.6V26.6Z" fill="#fff3f5" stroke="#000" stroke-width="1.15"/>
<path d="M589.6 26.6H598" stroke="#111" stroke-width="1" fill="none"/>
<path d="M598.6 23.9L603.2 33H593.6Z" fill="#ffff90" stroke="#111" stroke-width="1"/>
<path d="M598.5 26.8V30 M598.5 31V32" stroke="#111" stroke-width="1.2" fill="none"/>
<!-- selected 1 -->
<rect x="610.8" y="17.4" width="20.6" height="20" fill="#fff" stroke="#0a246a" stroke-width="1.3"/>
<path d="M614.8 30.6L622.6 22L626 26.4 M613.7 26.9L616.4 30.6" stroke="#111" stroke-width="1" fill="none"/>
<path d="M620.3 20.7h4.4l-2.2 2.7z" fill="#e00010"/>
<path d="M614.2 32.7h4.6l-2.3 -2.5z" fill="#00b020"/>
<!-- selected 2 -->
<rect x="633.9" y="17.4" width="20.6" height="20" fill="#fff" stroke="#0a246a" stroke-width="1.3"/>
<path d="M637.3 21.6L639 23.4L640.7 21.1L642.7 22.8" stroke="#00a020" stroke-width="1.4" fill="none"/>
<path d="M640.3 24.8V28.8" stroke="#00a020" stroke-width="1.3" fill="none"/><path d="M638.4 26.3L640.3 23.9L642.2 26.3Z" fill="#00a020"/>
<path d="M645.9 21.8V25.6" stroke="#e00010" stroke-width="1.3" fill="none"/><path d="M644 24.6L645.9 27L647.8 24.6Z" fill="#e00010"/>
<path d="M641.9 29.3L643.9 32L645.9 29L647.9 31.3L649.8 28.6" stroke="#e00010" stroke-width="1.4" fill="none"/>
<!-- help -->
<rect x="660.4" y="23.5" width="9" height="7.8" fill="#e9f7f7" stroke="#3c3c3c" stroke-width="1.1"/>
<text x="664.9" y="30.4" font-weight="bold" font-size="8" text-anchor="middle" fill="#000">?</text>
</g>

</svg>
</body></html>
